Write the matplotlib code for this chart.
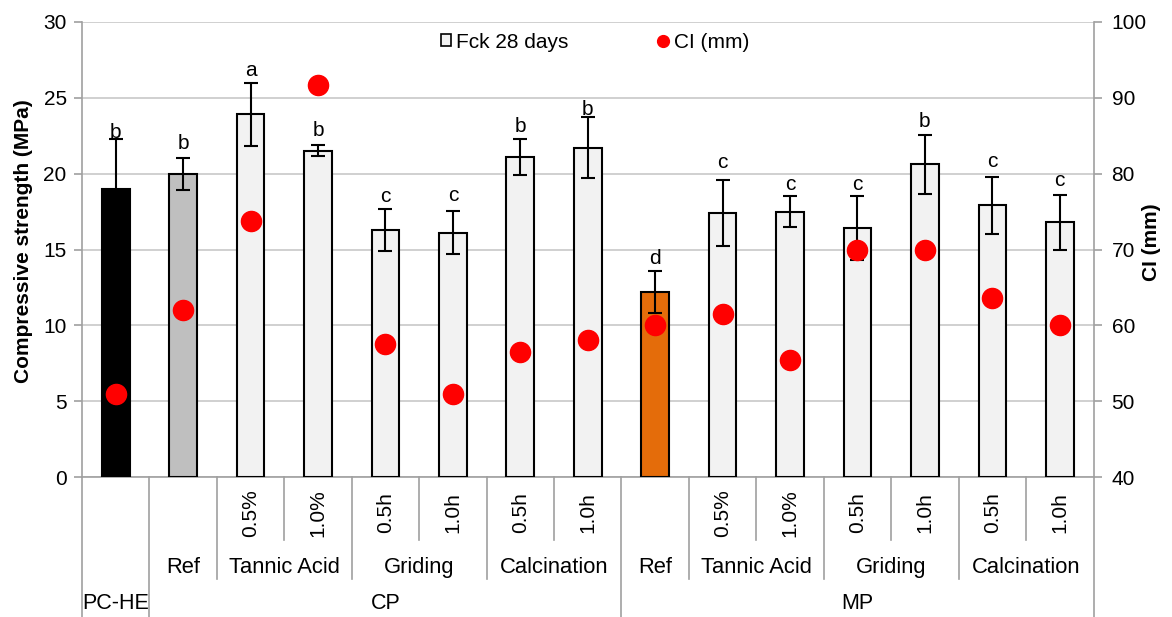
import numpy as np
import matplotlib
matplotlib.use('Agg')
import matplotlib.pyplot as plt
from matplotlib.patches import Patch
from matplotlib.lines import Line2D
from matplotlib.transforms import blended_transform_factory

plt.rcParams['font.family'] = ['Liberation Sans', 'DejaVu Sans']
plt.rcParams['font.size'] = 15

# three-level category axis: group / treatment / level
top_labels = ['PC-HE'] + ['CP'] * 7 + ['MP'] * 7
mid_labels = ['', 'Ref', 'Tannic Acid', 'Tannic Acid', 'Griding', 'Griding', 'Calcination', 'Calcination',
              'Ref', 'Tannic Acid', 'Tannic Acid', 'Griding', 'Griding', 'Calcination', 'Calcination']
sub_labels = ['', '', '0.5%', '1.0%', '0.5h', '1.0h', '0.5h', '1.0h',
              '', '0.5%', '1.0%', '0.5h', '1.0h', '0.5h', '1.0h']

# compressive strength at 28 days (MPa), standard deviation, Tukey letters
fck = [19.0, 20.0, 23.9, 21.5, 16.3, 16.1, 21.1, 21.7, 12.2, 17.4, 17.5, 16.4, 20.6, 17.9, 16.8]
fck_sd = [3.3, 1.05, 2.07, 0.35, 1.37, 1.42, 1.2, 2.0, 1.37, 2.2, 1.05, 2.12, 1.92, 1.9, 1.8]
letters = ['b', 'b', 'a', 'b', 'c', 'c', 'b', 'b', 'd', 'c', 'c', 'c', 'b', 'c', 'c']

# consistency index (mm)
ci = [51.0, 62.0, 73.8, 91.6, 57.5, 51.0, 56.5, 58.1, 60.0, 61.5, 55.5, 70.0, 70.0, 63.6, 60.0]

bar_colors = ['black', '#bfbfbf'] + ['#f2f2f2'] * 6 + ['#e46c0a'] + ['#f2f2f2'] * 6
letter_dy = [4.5, 10, 9, 11, 9, 11, 9, 6, 9, 12, 8, 8, 10, 11, 10]  # points above the cap

axis_gray = '#a0a0a0'

fig = plt.figure(figsize=(11.72, 6.17), dpi=100)
ax = fig.add_axes([82 / 1172, 1 - 477.3 / 617, 1011.5 / 1172, 455.6 / 617])
x = np.arange(len(fck))

ax.bar(x, fck, width=0.41, color=bar_colors, edgecolor='black', linewidth=1.5, zorder=3)
ax.errorbar(x, fck, yerr=fck_sd, fmt='none', ecolor='black', elinewidth=1.5,
            capsize=5, capthick=1.5, zorder=4)
for xi, v, e, l, dy in zip(x, fck, fck_sd, letters, letter_dy):
    ax.annotate(l, (xi, v + e), xytext=(0, dy), textcoords='offset points',
                ha='center', va='center', fontsize=15, zorder=5)

ax.set_xlim(-0.5, len(fck) - 0.5)
ax.set_ylim(0, 30)
ax.set_yticks(np.arange(0, 31, 5))
ax.set_xticks([])
ax.yaxis.grid(True, color='#c8c8c8', linewidth=1.2)
ax.set_axisbelow(True)
ax.tick_params(axis='y', length=6, color=axis_gray, width=1.2, labelsize=15, pad=5)
ax.set_ylabel('Compressive strength (MPa)', fontweight='bold', fontsize=15)
ax.yaxis.set_label_coords(-0.0484, 0.519)
for s in ['top', 'right']:
    ax.spines[s].set_visible(False)
for s in ['left', 'bottom']:
    ax.spines[s].set_color(axis_gray)
    ax.spines[s].set_linewidth(1.2)

ax2 = ax.twinx()
ax2.plot(x, ci, 'o', color='red', markersize=14.5, zorder=5)
ax2.set_ylim(40, 100)
ax2.set_yticks(np.arange(40, 101, 10))
ax2.tick_params(axis='y', length=6, color=axis_gray, width=1.2, labelsize=15, pad=7)
ax2.set_ylabel('CI (mm)', fontweight='bold', fontsize=15)
ax2.yaxis.set_label_coords(1.048, 0.516)
for s in ['top', 'left', 'bottom']:
    ax2.spines[s].set_visible(False)
ax2.spines['right'].set_color(axis_gray)
ax2.spines['right'].set_linewidth(1.2)

handles = [Patch(facecolor='#f2f2f2', edgecolor='black', linewidth=1.2),
           Line2D([], [], marker='o', color='red', linestyle='none', markersize=8.5)]
ax.legend(handles, ['Fck 28 days', 'CI (mm)'], ncol=2, frameon=False,
          loc='center', bbox_to_anchor=(0.507, 0.955), handlelength=0.5, handleheight=0.5,
          handletextpad=0.25, columnspacing=4.3, fontsize=15)

# category axis drawn below the plot
tr = blended_transform_factory(ax.transData, ax.transAxes)
y_full, y_mid, y_sub = -0.3066, -0.2225, -0.138
n = len(fck)
for b in range(-1, n):
    xb = b + 0.5
    if b < 0 or b == n - 1 or top_labels[b] != top_labels[b + 1]:
        y_end = y_full
    elif mid_labels[b] != mid_labels[b + 1]:
        y_end = y_mid
    else:
        y_end = y_sub
    ax.plot([xb, xb], [0, y_end], color=axis_gray, lw=1.2, transform=tr, clip_on=False)


def runs(labels):
    out = []
    start = 0
    for i in range(1, len(labels) + 1):
        if i == len(labels) or labels[i] != labels[start]:
            out.append((labels[start], start, i - 1))
            start = i
    return out


for i, lab in enumerate(sub_labels):
    if lab:
        ax.text(i, -0.078, lab, rotation=90, ha='center', va='center', fontsize=15,
                transform=tr, clip_on=False)
for lab, a, b in runs(mid_labels):
    if lab:
        ax.text((a + b) / 2, -0.197, lab, ha='center', va='center', fontsize=15.8,
                transform=tr, clip_on=False)
for lab, a, b in runs(top_labels):
    ax.text((a + b) / 2, -0.2765, lab, ha='center', va='center', fontsize=15.5,
            transform=tr, clip_on=False)

fig.savefig('out.png', dpi=100)
